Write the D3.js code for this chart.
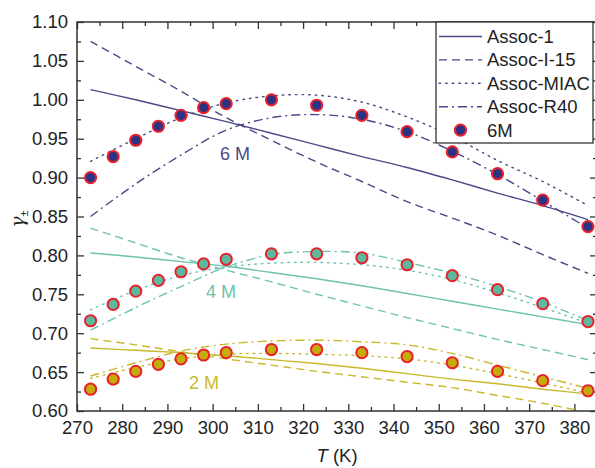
<!DOCTYPE html>
<html>
<head>
<meta charset="utf-8">
<script src="https://cdn.jsdelivr.net/npm/d3@7"></script>
<style>
  html, body { margin: 0; padding: 0; background: #fff; }
  svg { display: block; font-family: "Liberation Sans", Arial, sans-serif; }
</style>
</head>
<body>
<svg id="chart" width="595" height="468"></svg>
<script>
// measured temperatures (K) and gamma values
const temps_exp = [273, 278, 283, 288, 293, 298, 303, 313, 323, 333, 343, 353, 363, 373, 383];
const exp_6M = [0.900, 0.927, 0.948, 0.966, 0.980, 0.990, 0.995, 1.000, 0.993, 0.980, 0.959, 0.933, 0.905, 0.871, 0.837];
const exp_4M = [0.716, 0.737, 0.754, 0.768, 0.779, 0.789, 0.795, 0.802, 0.802, 0.797, 0.788, 0.774, 0.756, 0.738, 0.715];
const exp_2M = [0.628, 0.641, 0.651, 0.660, 0.667, 0.672, 0.675, 0.679, 0.679, 0.675, 0.670, 0.662, 0.651, 0.639, 0.626];

// model curves, read at these temperatures
const temps_model = [273, 283, 293, 303, 313, 323, 333, 343, 353, 363, 373, 383];
const assoc1_6M = [1.013, 1.000, 0.986, 0.972, 0.957, 0.942, 0.927, 0.913, 0.897, 0.880, 0.864, 0.846];
const assocI15_6M = [1.075, 1.043, 1.011, 0.977, 0.948, 0.920, 0.895, 0.869, 0.848, 0.826, 0.801, 0.777];
const miac_6M = [0.921, 0.950, 0.977, 0.996, 1.005, 1.006, 0.997, 0.978, 0.953, 0.922, 0.895, 0.864];
const r40_6M = [0.850, 0.892, 0.929, 0.961, 0.977, 0.981, 0.975, 0.959, 0.934, 0.904, 0.870, 0.835];

const assoc1_4M = [0.803, 0.798, 0.792, 0.786, 0.778, 0.770, 0.761, 0.751, 0.741, 0.731, 0.721, 0.711];
const assocI15_4M = [0.835, 0.816, 0.797, 0.781, 0.766, 0.750, 0.735, 0.720, 0.706, 0.692, 0.679, 0.666];
const miac_4M = [0.730, 0.755, 0.774, 0.785, 0.790, 0.791, 0.788, 0.781, 0.769, 0.752, 0.733, 0.713];
const r40_4M = [0.704, 0.733, 0.760, 0.785, 0.801, 0.805, 0.803, 0.791, 0.777, 0.760, 0.740, 0.716];

const assoc1_2M = [0.681, 0.678, 0.675, 0.671, 0.666, 0.661, 0.655, 0.648, 0.641, 0.635, 0.628, 0.622];
const assocI15_2M = [0.693, 0.685, 0.676, 0.667, 0.659, 0.651, 0.644, 0.637, 0.630, 0.620, 0.610, 0.598];
const miac_2M = [0.642, 0.656, 0.667, 0.673, 0.674, 0.673, 0.671, 0.667, 0.659, 0.648, 0.636, 0.623];
const r40_2M = [0.645, 0.662, 0.677, 0.686, 0.690, 0.691, 0.689, 0.685, 0.674, 0.659, 0.644, 0.629];

const x_ticks = [270, 280, 290, 300, 310, 320, 330, 340, 350, 360, 370, 380];
const y_ticks = [0.60, 0.65, 0.70, 0.75, 0.80, 0.85, 0.90, 0.95, 1.00, 1.05, 1.10];
const legend_labels = ['Assoc-1', 'Assoc-I-15', 'Assoc-MIAC', 'Assoc-R40', '6M'];
const conc_labels = ['6 M', '4 M', '2 M'];

// 1. Layout
const plot_left = 77, plot_right = 597, plot_top = 22, plot_bottom = 411;
const svg = d3.select('#chart');

const x = d3.scaleLinear().domain([270, 385]).range([plot_left, plot_right]);
const y = d3.scaleLinear().domain([0.60, 1.10]).range([plot_bottom, plot_top]);

const dash_styles = {
  solid: null,
  dash: '8,5',
  dot: '1.6,5',
  dashdot: '9,4,2,4'
};
const groups = [
  { label: conc_labels[0], line: '#4a4a86', fill: '#2c3384', exp: exp_6M,
    curves: [assoc1_6M, assocI15_6M, miac_6M, r40_6M], lx: 235, ly: 160 },
  { label: conc_labels[1], line: '#6cc3ae', fill: '#5db8a0', exp: exp_4M,
    curves: [assoc1_4M, assocI15_4M, miac_4M, r40_4M], lx: 221, ly: 298 },
  { label: conc_labels[2], line: '#c9b92a', fill: '#c4ad0a', exp: exp_2M,
    curves: [assoc1_2M, assocI15_2M, miac_2M, r40_2M], lx: 204, ly: 389 }
];
const curve_styles = ['solid', 'dash', 'dot', 'dashdot'];

svg.append('defs').append('clipPath').attr('id', 'plot-clip')
  .append('rect')
  .attr('x', plot_left).attr('y', plot_top)
  .attr('width', plot_right - plot_left).attr('height', plot_bottom - plot_top);

// 2. Axes (ticks point inward)
const axis_color = '#333';
const font_size = 18.5;

function style_axis(g) {
  g.select('.domain').remove();
  g.selectAll('line').attr('stroke', axis_color).attr('stroke-width', 1.3);
  g.selectAll('text').attr('font-size', font_size).attr('fill', '#222')
    .attr('font-family', '"Liberation Sans", Arial, sans-serif');
}
const x_minor = d3.range(275, 385, 10);
const y_minor = d3.range(0.625, 1.10, 0.05);

svg.append('g').attr('transform', `translate(0,${plot_bottom})`)
  .call(d3.axisBottom(x).tickValues(x_ticks).tickSize(-7).tickPadding(10).tickFormat(d3.format('d')))
  .call(style_axis);
svg.append('g').attr('transform', `translate(0,${plot_bottom})`)
  .call(d3.axisBottom(x).tickValues(x_minor).tickSize(-4).tickFormat(''))
  .call(style_axis);
svg.append('g').attr('transform', `translate(0,${plot_top})`)
  .call(d3.axisTop(x).tickValues(x_ticks).tickSize(-7).tickFormat(''))
  .call(style_axis);
svg.append('g').attr('transform', `translate(0,${plot_top})`)
  .call(d3.axisTop(x).tickValues(x_minor).tickSize(-4).tickFormat(''))
  .call(style_axis);

svg.append('g').attr('transform', `translate(${plot_left},0)`)
  .call(d3.axisLeft(y).tickValues(y_ticks).tickSize(-7).tickPadding(9).tickFormat(d3.format('.2f')))
  .call(style_axis);
svg.append('g').attr('transform', `translate(${plot_left},0)`)
  .call(d3.axisLeft(y).tickValues(y_minor).tickSize(-4).tickFormat(''))
  .call(style_axis);
svg.append('g').attr('transform', `translate(${plot_right},0)`)
  .call(d3.axisRight(y).tickValues(y_ticks).tickSize(-7).tickFormat(''))
  .call(style_axis);
svg.append('g').attr('transform', `translate(${plot_right},0)`)
  .call(d3.axisRight(y).tickValues(y_minor).tickSize(-4).tickFormat(''))
  .call(style_axis);

// 3. Model curves
const line_gen = d3.line()
  .x(d => x(d[0]))
  .y(d => y(d[1]))
  .curve(d3.curveCatmullRom.alpha(0.5));

const plot_g = svg.append('g').attr('clip-path', 'url(#plot-clip)');

groups.forEach(grp => {
  grp.curves.forEach((vals, i) => {
    const pts = temps_model.map((t, k) => [t, vals[k]]);
    plot_g.append('path')
      .attr('d', line_gen(pts))
      .attr('fill', 'none')
      .attr('stroke', grp.line)
      .attr('stroke-width', 1.4)
      .attr('stroke-linecap', curve_styles[i] === 'dot' ? 'round' : 'butt')
      .attr('stroke-dasharray', dash_styles[curve_styles[i]]);
  });
});

// 4. Experimental points
groups.forEach(grp => {
  plot_g.append('g')
    .selectAll('circle')
    .data(temps_exp.map((t, k) => [t, grp.exp[k]]))
    .enter()
    .append('circle')
    .attr('cx', d => x(d[0]))
    .attr('cy', d => y(d[1]))
    .attr('r', 5.6)
    .attr('fill', grp.fill)
    .attr('stroke', '#e8212b')
    .attr('stroke-width', 2);
});

// concentration labels
groups.forEach(grp => {
  svg.append('text')
    .attr('x', grp.lx)
    .attr('y', grp.ly)
    .attr('text-anchor', 'middle')
    .attr('font-size', 18)
    .attr('fill', grp.line)
    .text(grp.label);
});

// frame (right edge falls just past the canvas)
svg.append('rect')
  .attr('x', plot_left).attr('y', plot_top)
  .attr('width', plot_right - plot_left).attr('height', plot_bottom - plot_top)
  .attr('fill', 'none')
  .attr('stroke', axis_color)
  .attr('stroke-width', 1.5);

// 5. Legend
const leg = svg.append('g').attr('transform', 'translate(436,22)');
leg.append('rect')
  .attr('x', 0).attr('y', 0)
  .attr('width', 157).attr('height', 121)
  .attr('fill', '#fff')
  .attr('stroke', '#222')
  .attr('stroke-width', 1.2);

legend_labels.forEach((lab, i) => {
  const row_y = 14.5 + i * 23.4;
  if (i < 4) {
    leg.append('line')
      .attr('x1', 3).attr('x2', 46)
      .attr('y1', row_y).attr('y2', row_y)
      .attr('stroke', groups[0].line)
      .attr('stroke-width', 1.4)
      .attr('stroke-linecap', curve_styles[i] === 'dot' ? 'round' : 'butt')
      .attr('stroke-dasharray', dash_styles[curve_styles[i]]);
  } else {
    leg.append('circle')
      .attr('cx', 24.5).attr('cy', row_y)
      .attr('r', 5.6)
      .attr('fill', groups[0].fill)
      .attr('stroke', '#e8212b')
      .attr('stroke-width', 2);
  }
  leg.append('text')
    .attr('x', 51)
    .attr('y', row_y)
    .attr('dy', '0.35em')
    .attr('font-size', font_size)
    .attr('fill', '#222')
    .text(lab);
});

// 6. Axis titles
const x_title = svg.append('text')
  .attr('x', 337)
  .attr('y', 462)
  .attr('text-anchor', 'middle')
  .attr('font-size', font_size)
  .attr('fill', '#222');
x_title.append('tspan').attr('font-style', 'italic').text('T');
x_title.append('tspan').text(' (K)');

const y_title = svg.append('text')
  .attr('transform', 'translate(24,219) rotate(-90)')
  .attr('text-anchor', 'middle')
  .attr('font-size', font_size)
  .attr('fill', '#222');
y_title.append('tspan').attr('font-family', '"DejaVu Serif", "Liberation Serif", serif')
  .attr('font-style', 'italic').text('γ');
y_title.append('tspan').attr('font-size', 11).attr('dy', 4).text('±');
</script>
</body>
</html>
